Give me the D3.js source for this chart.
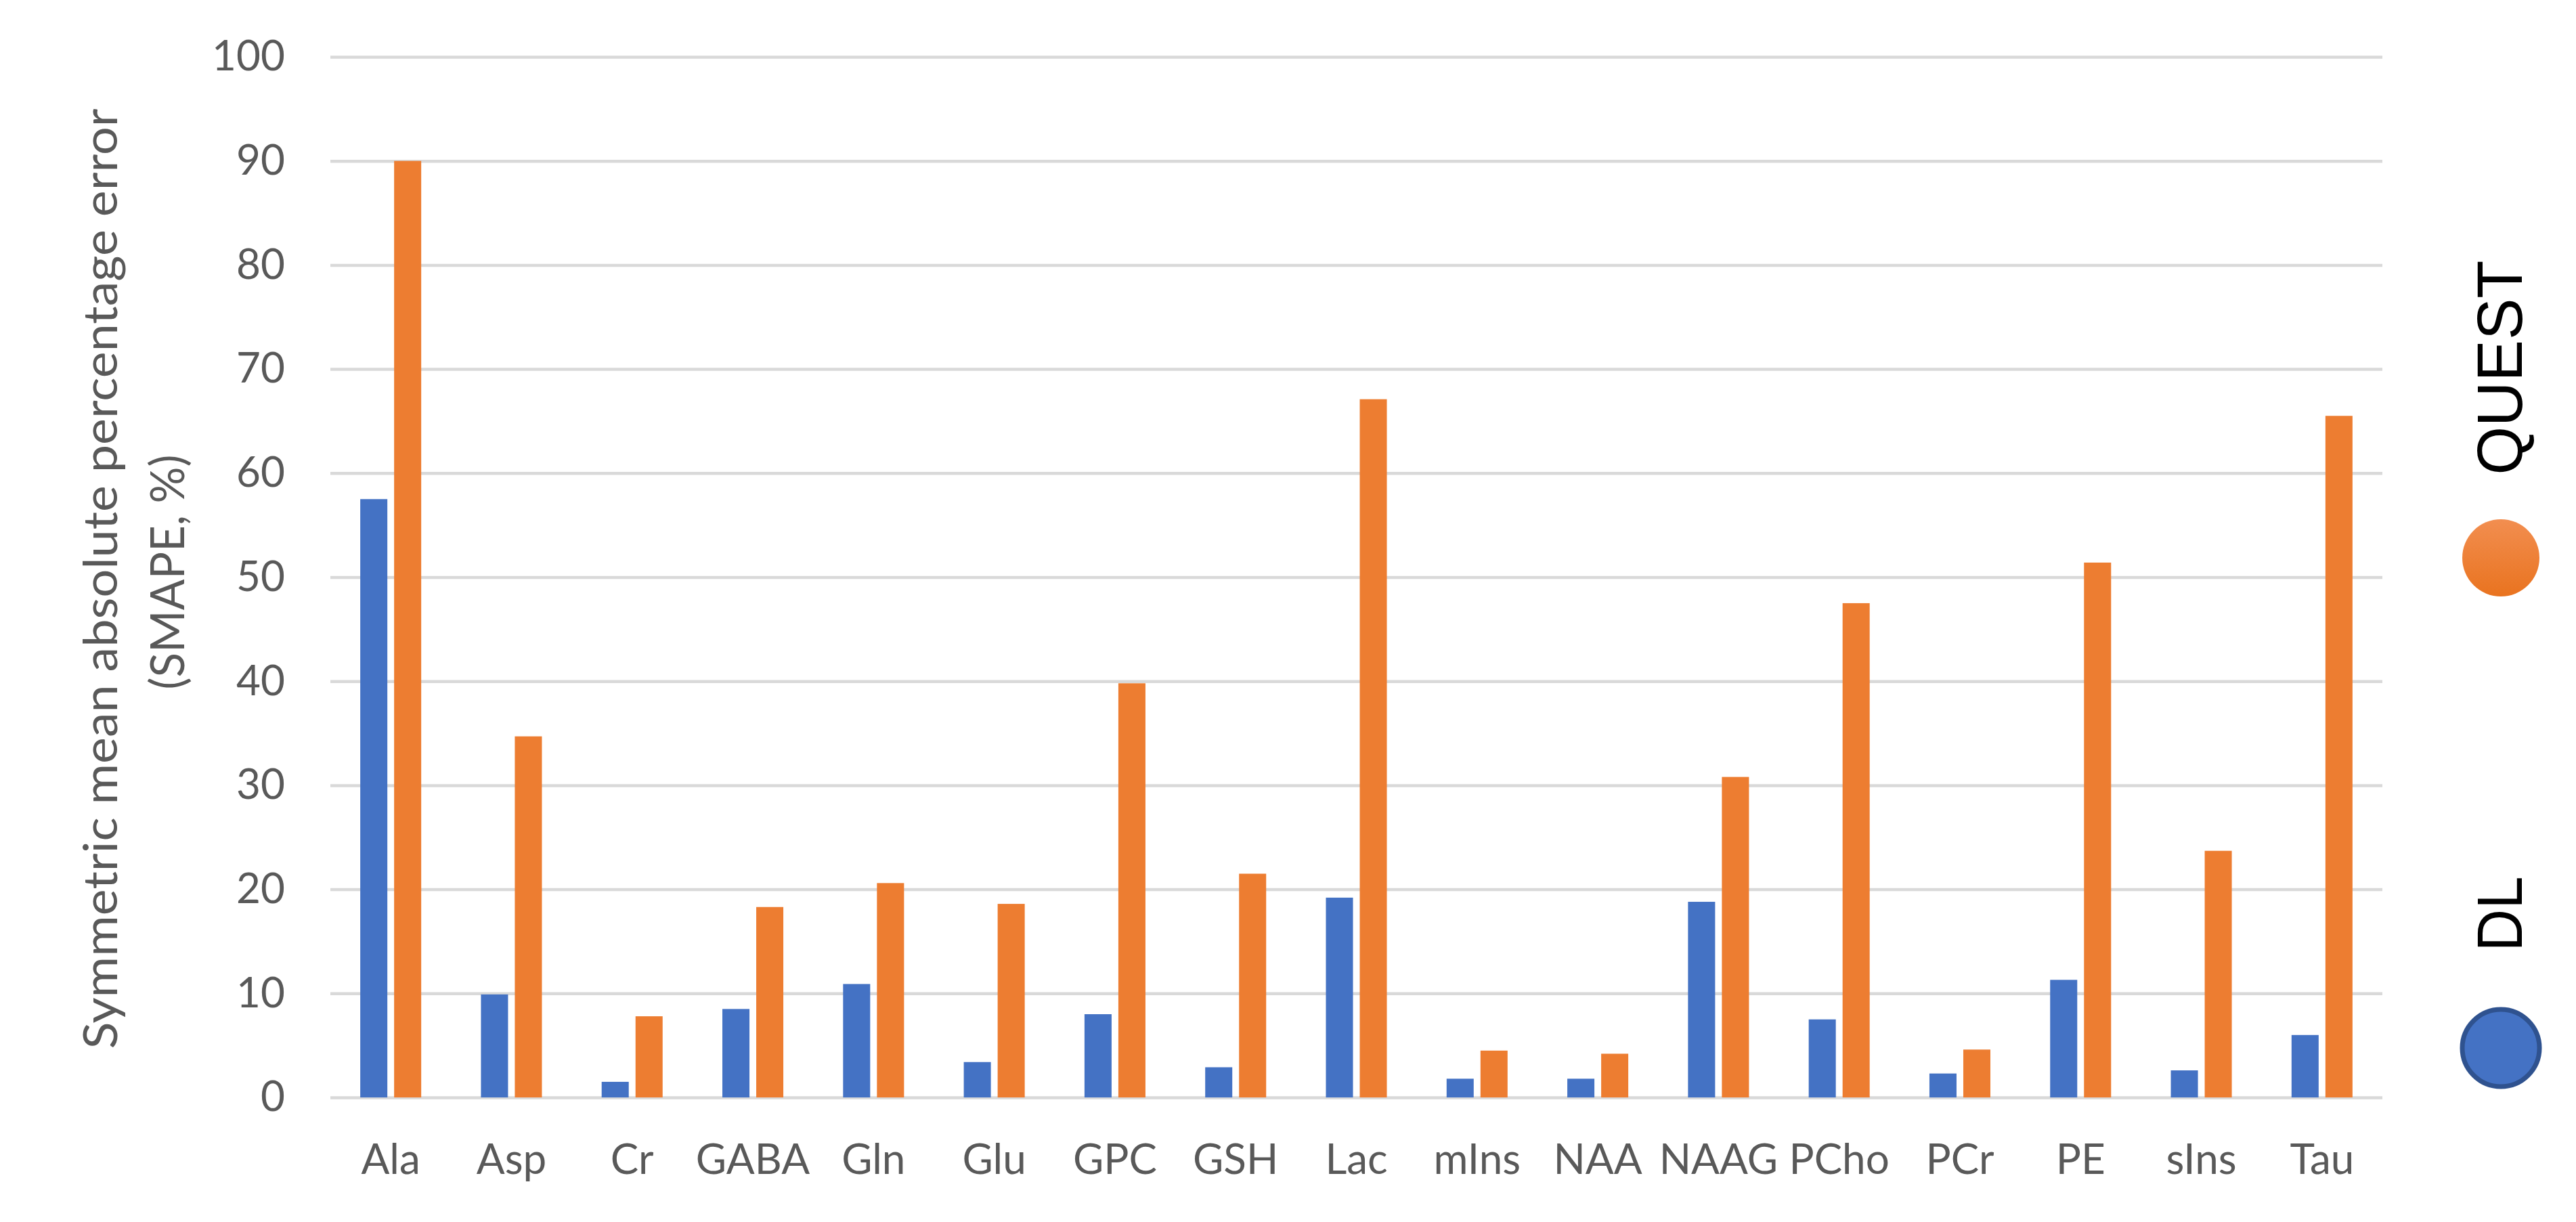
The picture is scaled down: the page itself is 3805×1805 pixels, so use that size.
<!DOCTYPE html>
<html lang="en">
<head>
  <meta charset="UTF-8">
  <title>SMAPE by metabolite</title>
  <script src="https://d3js.org/d3.v7.min.js"></script>
  <style>
    body {
      margin: 0;
      background: #fff;
    }
    svg {
      display: block;
    }
    .tick text {
      font-family: Lato, sans-serif;
      fill: #595959;
    }
    .ytitle {
      font-family: Lato, sans-serif;
      fill: #595959;
    }
    .legend-label {
      font-family: "Liberation Sans", Arial, sans-serif;
      fill: #000;
    }
  </style>
</head>
<body>
  <svg id="chart" width="3805" height="1805"></svg>

  <script>
    // values
    const categories = ["Ala", "Asp", "Cr", "GABA", "Gln", "Glu", "GPC", "GSH", "Lac",
                        "mIns", "NAA", "NAAG", "PCho", "PCr", "PE", "sIns", "Tau"];
    const dlValues = [57.5, 9.9, 1.5, 8.5, 10.9, 3.4, 8.0, 2.9, 19.2,
                      1.8, 1.8, 18.8, 7.5, 2.3, 11.3, 2.6, 6.0];
    const questValues = [90.0, 34.7, 7.8, 18.3, 20.6, 18.6, 39.8, 21.5, 67.1,
                         4.5, 4.2, 30.8, 47.5, 4.6, 51.4, 23.7, 65.5];
    const seriesNames = ["DL", "QUEST"];
    const yTicks = [0, 10, 20, 30, 40, 50, 60, 70, 80, 90, 100];

    const svg = d3.select("#chart");
    const plot = { left: 488, right: 3519, top: 84, bottom: 1621 };

    const color = d3.scaleOrdinal(seriesNames, ["#4472c4", "#ed7d31"]);

    const y = d3.scaleLinear().domain([0, 100]).range([plot.bottom, plot.top]);

    const x0 = d3.scaleBand()
      .domain(categories)
      .range([plot.left, plot.right])
      .paddingInner(0.495)
      .paddingOuter(0.2475);

    const x1 = d3.scaleBand()
      .domain(seriesNames)
      .range([0, x0.bandwidth()])
      .paddingInner(0.2);

    // gridlines + y labels
    const yAxis = svg.append("g")
      .attr("transform", `translate(${plot.left},0)`)
      .call(d3.axisLeft(y).tickValues(yTicks).tickSize(-(plot.right - plot.left)).tickPadding(67));
    yAxis.select(".domain").remove();
    yAxis.selectAll(".tick line").attr("stroke", "#d9d9d9").attr("stroke-width", 4.5);
    yAxis.selectAll(".tick text").style("font-size", "62px");

    // x labels
    const xAxis = svg.append("g")
      .attr("transform", `translate(0,${plot.bottom})`)
      .call(d3.axisBottom(x0).tickSize(0).tickPadding(69));
    xAxis.select(".domain").remove();
    xAxis.selectAll(".tick text").style("font-size", "62px");

    // bars
    const rows = categories.map((c, i) => ({ cat: c, DL: dlValues[i], QUEST: questValues[i] }));

    svg.append("g")
      .selectAll("g")
      .data(rows)
      .join("g")
      .attr("transform", d => `translate(${x0(d.cat)},0)`)
      .selectAll("rect")
      .data(d => seriesNames.map(s => ({ key: s, value: d[s] })))
      .join("rect")
      .attr("x", d => x1(d.key))
      .attr("width", x1.bandwidth())
      .attr("y", d => y(d.value))
      .attr("height", d => y(0) - y(d.value))
      .attr("fill", d => color(d.key));

    // y title, two lines
    svg.append("text")
      .attr("class", "ytitle")
      .attr("transform", "translate(173,855) rotate(-90)")
      .attr("text-anchor", "middle")
      .attr("textLength", 1389)
      .attr("lengthAdjust", "spacingAndGlyphs")
      .style("font-size", "70px")
      .text("Symmetric mean absolute percentage error");
    svg.append("text")
      .attr("class", "ytitle")
      .attr("transform", "translate(272,845) rotate(-90)")
      .attr("text-anchor", "middle")
      .attr("textLength", 347)
      .attr("lengthAdjust", "spacingAndGlyphs")
      .style("font-size", "70px")
      .text("(SMAPE, %)");

    // legend on the right, rotated
    const defs = svg.append("defs");
    const grad = defs.append("linearGradient")
      .attr("id", "orangeGrad")
      .attr("x1", 0).attr("y1", 0).attr("x2", 0).attr("y2", 1);
    grad.append("stop").attr("offset", "0%").attr("stop-color", "#f28e50");
    grad.append("stop").attr("offset", "100%").attr("stop-color", "#e9731f");

    const legendItems = [
      { name: "QUEST", cy: 824, ty: 543, len: 317, fill: "url(#orangeGrad)", stroke: "none" },
      { name: "DL", cy: 1548, ty: 1350, len: 111, fill: color("DL"), stroke: "#2f528f" }
    ];

    const leg = svg.append("g").selectAll("g").data(legendItems).join("g");
    leg.append("circle")
      .attr("cx", 3694)
      .attr("cy", d => d.cy)
      .attr("r", 57)
      .attr("fill", d => d.fill)
      .attr("stroke", d => d.stroke)
      .attr("stroke-width", 7);
    leg.append("text")
      .attr("class", "legend-label")
      .attr("transform", d => `translate(3725,${d.ty}) rotate(-90)`)
      .attr("text-anchor", "middle")
      .attr("textLength", d => d.len)
      .attr("lengthAdjust", "spacingAndGlyphs")
      .style("font-size", "95px")
      .text(d => d.name);
  </script>
</body>
</html>
